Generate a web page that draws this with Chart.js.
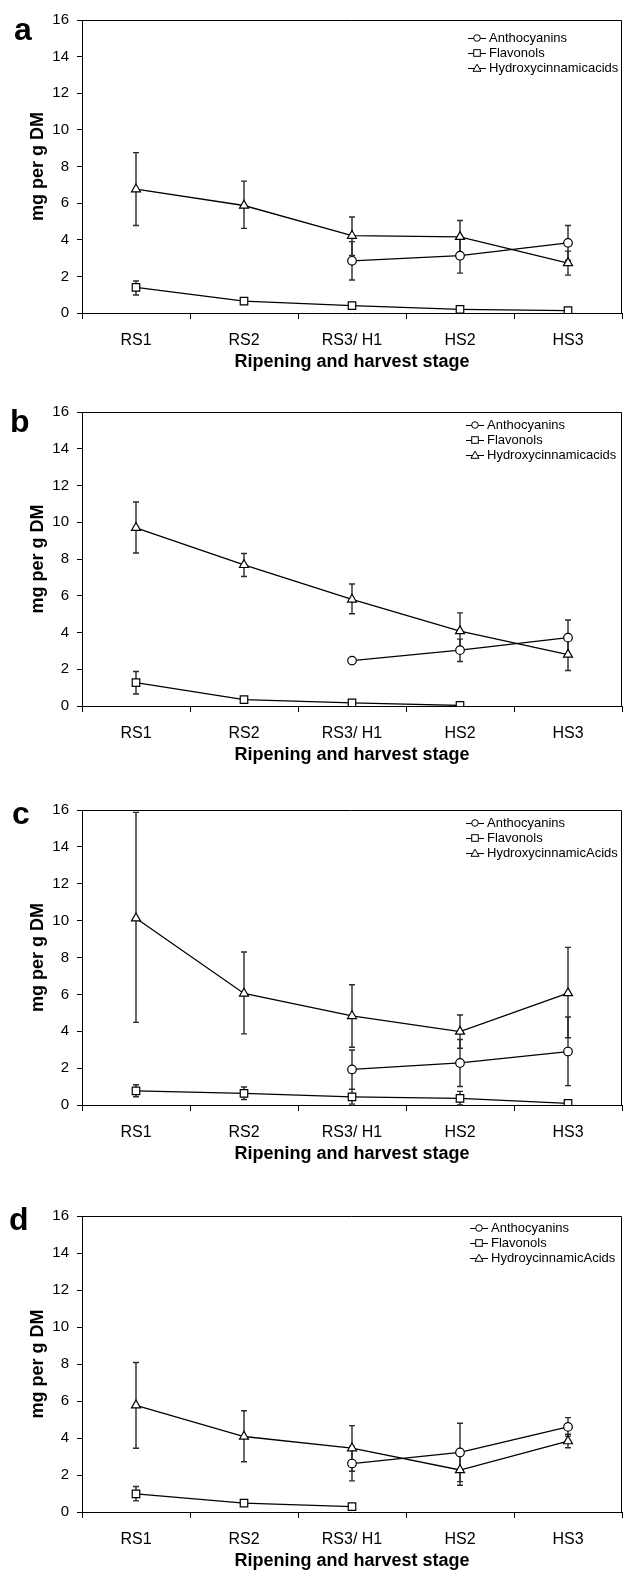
<!DOCTYPE html>
<html>
<head>
<meta charset="utf-8">
<script src="https://cdn.jsdelivr.net/npm/chart.js@4.4.1/dist/chart.umd.min.js"></script>
<style>
  html, body { margin: 0; padding: 0; background: #fff; }
  body { width: 623px; height: 1573px; overflow: hidden; position: relative; font-family: "Liberation Sans", Arial, sans-serif; }
  .panel { position: absolute; left: 0; width: 623px; overflow: hidden; }
  .letter { position: absolute; font-weight: bold; font-size: 32px; line-height: 32px; color: #000; }
  .legend { position: absolute; font-size: 13px; color: #000; }
  .legend .row { height: 15px; line-height: 15px; display: flex; align-items: center; white-space: nowrap; }
  .legend svg { display: block; margin-right: 2px; }
</style>
</head>
<body>
<script>
// ---------- DATA ----------
const categories = ["RS1", "RS2", "RS3/ H1", "HS2", "HS3"];
const yTickValues = [0, 2, 4, 6, 8, 10, 12, 14, 16];
const xTitle = "Ripening and harvest stage";
const yTitle = "mg per g DM";
const panelLetters = ["a", "b", "c", "d"];
const seriesNames = ["Anthocyanins", "Flavonols"];
const hydroxyNames = ["Hydroxycinnamicacids", "Hydroxycinnamicacids", "HydroxycinnamicAcids", "HydroycinnamicAcids"];

// Panel a
const anthA   = [null, null, 2.85, 3.13, 3.83];
const anthALo = [null, null, 1.80, 2.18, 2.88];
const anthAHi = [null, null, 3.90, 4.08, 4.78];
const flavA   = [1.40, 0.65, 0.40, 0.20, 0.13];
const flavALo = [0.98, 0.50, 0.33, 0.14, 0.08];
const flavAHi = [1.75, 0.80, 0.47, 0.26, 0.18];
const hydA    = [6.76, 5.87, 4.22, 4.16, 2.73];
const hydALo  = [4.78, 4.62, 3.14, 3.30, 2.07];
const hydAHi  = [8.76, 7.20, 5.24, 5.05, 3.38];

// Panel b
const anthB   = [null, null, 2.47, 3.04, 3.72];
const anthBLo = [null, null, null, 2.42, 2.78];
const anthBHi = [null, null, null, 3.64, 4.68];
const flavB   = [1.27, 0.35, 0.17, 0.03, null];
const flavBLo = [0.65, 0.25, 0.12, 0.00, null];
const flavBHi = [1.88, 0.48, 0.22, 0.06, null];
const hydB    = [9.70, 7.68, 5.80, 4.08, 2.80];
const hydBLo  = [8.33, 7.05, 5.02, 3.10, 1.93];
const hydBHi  = [11.10, 8.30, 6.64, 5.07, 3.65];

// Panel c
const anthC   = [null, null, 1.93, 2.28, 2.90];
const anthCLo = [null, null, 0.85, 1.00, 1.05];
const anthCHi = [null, null, 2.98, 3.55, 4.77];
const flavC   = [0.77, 0.63, 0.44, 0.36, 0.09];
const flavCLo = [0.45, 0.30, 0.05, 0.00, 0.02];
const flavCHi = [1.10, 0.98, 0.85, 0.74, 0.16];
const hydC    = [10.13, 6.05, 4.83, 3.98, 6.07];
const hydCLo  = [4.48, 3.86, 3.13, 3.08, 3.65];
const hydCHi  = [15.87, 8.30, 6.52, 4.88, 8.55];

// Panel d
const anthD   = [null, null, 2.62, 3.22, 4.60];
const anthDLo = [null, null, 1.68, 1.64, 4.10];
const anthDHi = [null, null, 3.55, 4.80, 5.10];
const flavD   = [0.98, 0.48, 0.29, null, null];
const flavDLo = [0.60, 0.44, 0.25, null, null];
const flavDHi = [1.38, 0.52, 0.33, null, null];
const hydD    = [5.77, 4.08, 3.45, 2.27, 3.83];
const hydDLo  = [3.45, 2.72, 2.20, 1.45, 3.47];
const hydDHi  = [8.08, 5.47, 4.67, 3.10, 4.20];

// ---------- LAYOUT ----------
const FONT = '"Liberation Sans", Arial, sans-serif';
const panels = [
  { plotTop: 20,  plotBottom: 313, anth: [anthA, anthALo, anthAHi], flav: [flavA, flavALo, flavAHi], hyd: [hydA, hydALo, hydAHi],
    letter: { x: 14, base: 40 }, legend: { x: 467, y: 30 } },
  { plotTop: 412, plotBottom: 706, anth: [anthB, anthBLo, anthBHi], flav: [flavB, flavBLo, flavBHi], hyd: [hydB, hydBLo, hydBHi],
    letter: { x: 10, base: 432 }, legend: { x: 465, y: 417 } },
  { plotTop: 810, plotBottom: 1105, anth: [anthC, anthCLo, anthCHi], flav: [flavC, flavCLo, flavCHi], hyd: [hydC, hydCLo, hydCHi],
    letter: { x: 12, base: 824 }, legend: { x: 465, y: 815 } },
  { plotTop: 1216, plotBottom: 1512, anth: [anthD, anthDLo, anthDHi], flav: [flavD, flavDLo, flavDHi], hyd: [hydD, hydDLo, hydDHi],
    letter: { x: 9, base: 1230 }, legend: { x: 469, y: 1220 } }
];
const PAD_TOP = 20;
const X_AXIS_H = 60;
const Y_AXIS_W = 82;
const CANVAS_W = 650;
const PLOT_RIGHT = 622;

// Error bars plugin (uses chart scales)
const errorBarPlugin = {
  id: 'errorBars',
  beforeDatasetsDraw(chart) {
    const ctx = chart.ctx;
    const yS = chart.scales.y;
    ctx.save();
    ctx.strokeStyle = '#2a2a2a';
    ctx.lineWidth = 1.4;
    chart.data.datasets.forEach((ds, di) => {
      const meta = chart.getDatasetMeta(di);
      ds.data.forEach((v, i) => {
        if (v == null || ds.errLo[i] == null) return;
        const x = meta.data[i].x;
        const yl = yS.getPixelForValue(ds.errLo[i]);
        const yh = yS.getPixelForValue(ds.errHi[i]);
        ctx.beginPath();
        ctx.moveTo(x, yl); ctx.lineTo(x, yh);
        ctx.moveTo(x - 3, yl); ctx.lineTo(x + 3, yl);
        ctx.moveTo(x - 3, yh); ctx.lineTo(x + 3, yh);
        ctx.stroke();
      });
    });
    ctx.restore();
  }
};

// Frame (top and right borders of plot box)
const framePlugin = {
  id: 'frame',
  beforeDatasetsDraw(chart) {
    const a = chart.chartArea;
    const ctx = chart.ctx;
    ctx.save();
    ctx.strokeStyle = '#000';
    ctx.lineWidth = 1;
    const t = Math.round(a.top) + 0.5;
    const r = Math.round(a.right) - 0.5;
    ctx.beginPath();
    ctx.moveTo(a.left, t); ctx.lineTo(r, t); ctx.lineTo(r, a.bottom);
    ctx.stroke();
    ctx.restore();
  }
};

function legendIcon(kind) {
  let m = '';
  if (kind === 'circle') m = '<circle cx="10" cy="6" r="3.3" fill="#fff" stroke="#000" stroke-width="1"/>';
  if (kind === 'rect') m = '<rect x="6.7" y="2.7" width="6.6" height="6.6" fill="#fff" stroke="#000" stroke-width="1"/>';
  if (kind === 'triangle') m = '<polygon points="10,2.2 14,9.3 6,9.3" fill="#fff" stroke="#000" stroke-width="1"/>';
  return '<svg width="20" height="12" viewBox="0 0 20 12"><line x1="1" y1="6.5" x2="19" y2="6.5" stroke="#000" stroke-width="1"/>' + m + '</svg>';
}

panels.forEach((p, idx) => {
  const areaH = p.plotBottom - p.plotTop;
  const top = p.plotTop - PAD_TOP;
  const h = PAD_TOP + areaH + X_AXIS_H;
  const div = document.createElement('div');
  div.className = 'panel';
  div.style.top = top + 'px';
  div.style.height = h + 'px';
  const cv = document.createElement('canvas');
  cv.width = CANVAS_W; cv.height = h;
  cv.style.width = CANVAS_W + 'px'; cv.style.height = h + 'px';
  cv.style.display = 'block';
  div.appendChild(cv);
  document.body.appendChild(div);

  const mk = (label, arr, style, radius) => ({
    label, data: arr[0], errLo: arr[1], errHi: arr[2],
    borderColor: '#000', borderWidth: 1.3, backgroundColor: '#fff',
    pointStyle: style, pointRadius: radius, pointBorderWidth: 1.2,
    pointBackgroundColor: '#fff', pointBorderColor: '#000', tension: 0, spanGaps: false
  });

  new Chart(cv, {
    type: 'line',
    data: {
      labels: categories,
      datasets: [
        mk(seriesNames[0], p.anth, 'circle', 4.3),
        mk(seriesNames[1], p.flav, 'rect', 5.3),
        mk(hydroxyNames[idx], p.hyd, 'triangle', 5.2)
      ]
    },
    options: {
      responsive: false,
      animation: false,
      devicePixelRatio: 1,
      layout: { padding: { top: PAD_TOP, right: CANVAS_W - PLOT_RIGHT, left: 0, bottom: 0 } },
      plugins: { legend: { display: false }, tooltip: { enabled: false } },
      scales: {
        x: {
          type: 'category',
          offset: true,
          grid: { offset: true, drawOnChartArea: false, drawTicks: true, tickLength: 6, color: '#000', lineWidth: 1 },
          border: { display: true, color: '#000', width: 1 },
          ticks: { color: '#000', font: { family: FONT, size: 16 }, padding: 12, maxRotation: 0, autoSkip: false },
          title: { display: true, text: xTitle, color: '#000', font: { family: FONT, size: 18, weight: 'bold' }, padding: { top: 0, bottom: 0 } },
          afterFit: (s) => { s.height = X_AXIS_H; }
        },
        y: {
          min: 0, max: 16,
          afterBuildTicks: (s) => { s.ticks = yTickValues.map(v => ({ value: v })); },
          grid: { drawOnChartArea: false, drawTicks: true, tickLength: 5, color: '#000', lineWidth: 1 },
          border: { display: true, color: '#000', width: 1 },
          ticks: { color: '#000', font: { family: FONT, size: 15 }, padding: 8 },
          title: { display: true, text: yTitle, color: '#000', font: { family: FONT, size: 18, weight: 'bold' }, padding: { top: 27, bottom: 0 } },
          afterFit: (s) => { s.width = Y_AXIS_W; }
        }
      }
    },
    plugins: [framePlugin, errorBarPlugin]
  });

  // panel letter
  const L = document.createElement('div');
  L.className = 'letter';
  L.textContent = panelLetters[idx];
  L.style.left = p.letter.x + 'px';
  L.style.top = (p.letter.base - 27) + 'px';
  document.body.appendChild(L);

  // legend
  const lg = document.createElement('div');
  lg.className = 'legend';
  lg.style.left = p.legend.x + 'px';
  lg.style.top = p.legend.y + 'px';
  const names = [seriesNames[0], seriesNames[1], hydroxyNames[idx]];
  const kinds = ['circle', 'rect', 'triangle'];
  names.forEach((n, k) => {
    const row = document.createElement('div');
    row.className = 'row';
    row.innerHTML = legendIcon(kinds[k]);
    const sp = document.createElement('span');
    sp.textContent = n;
    row.appendChild(sp);
    lg.appendChild(row);
  });
  document.body.appendChild(lg);
});
</script>
</body>
</html>
